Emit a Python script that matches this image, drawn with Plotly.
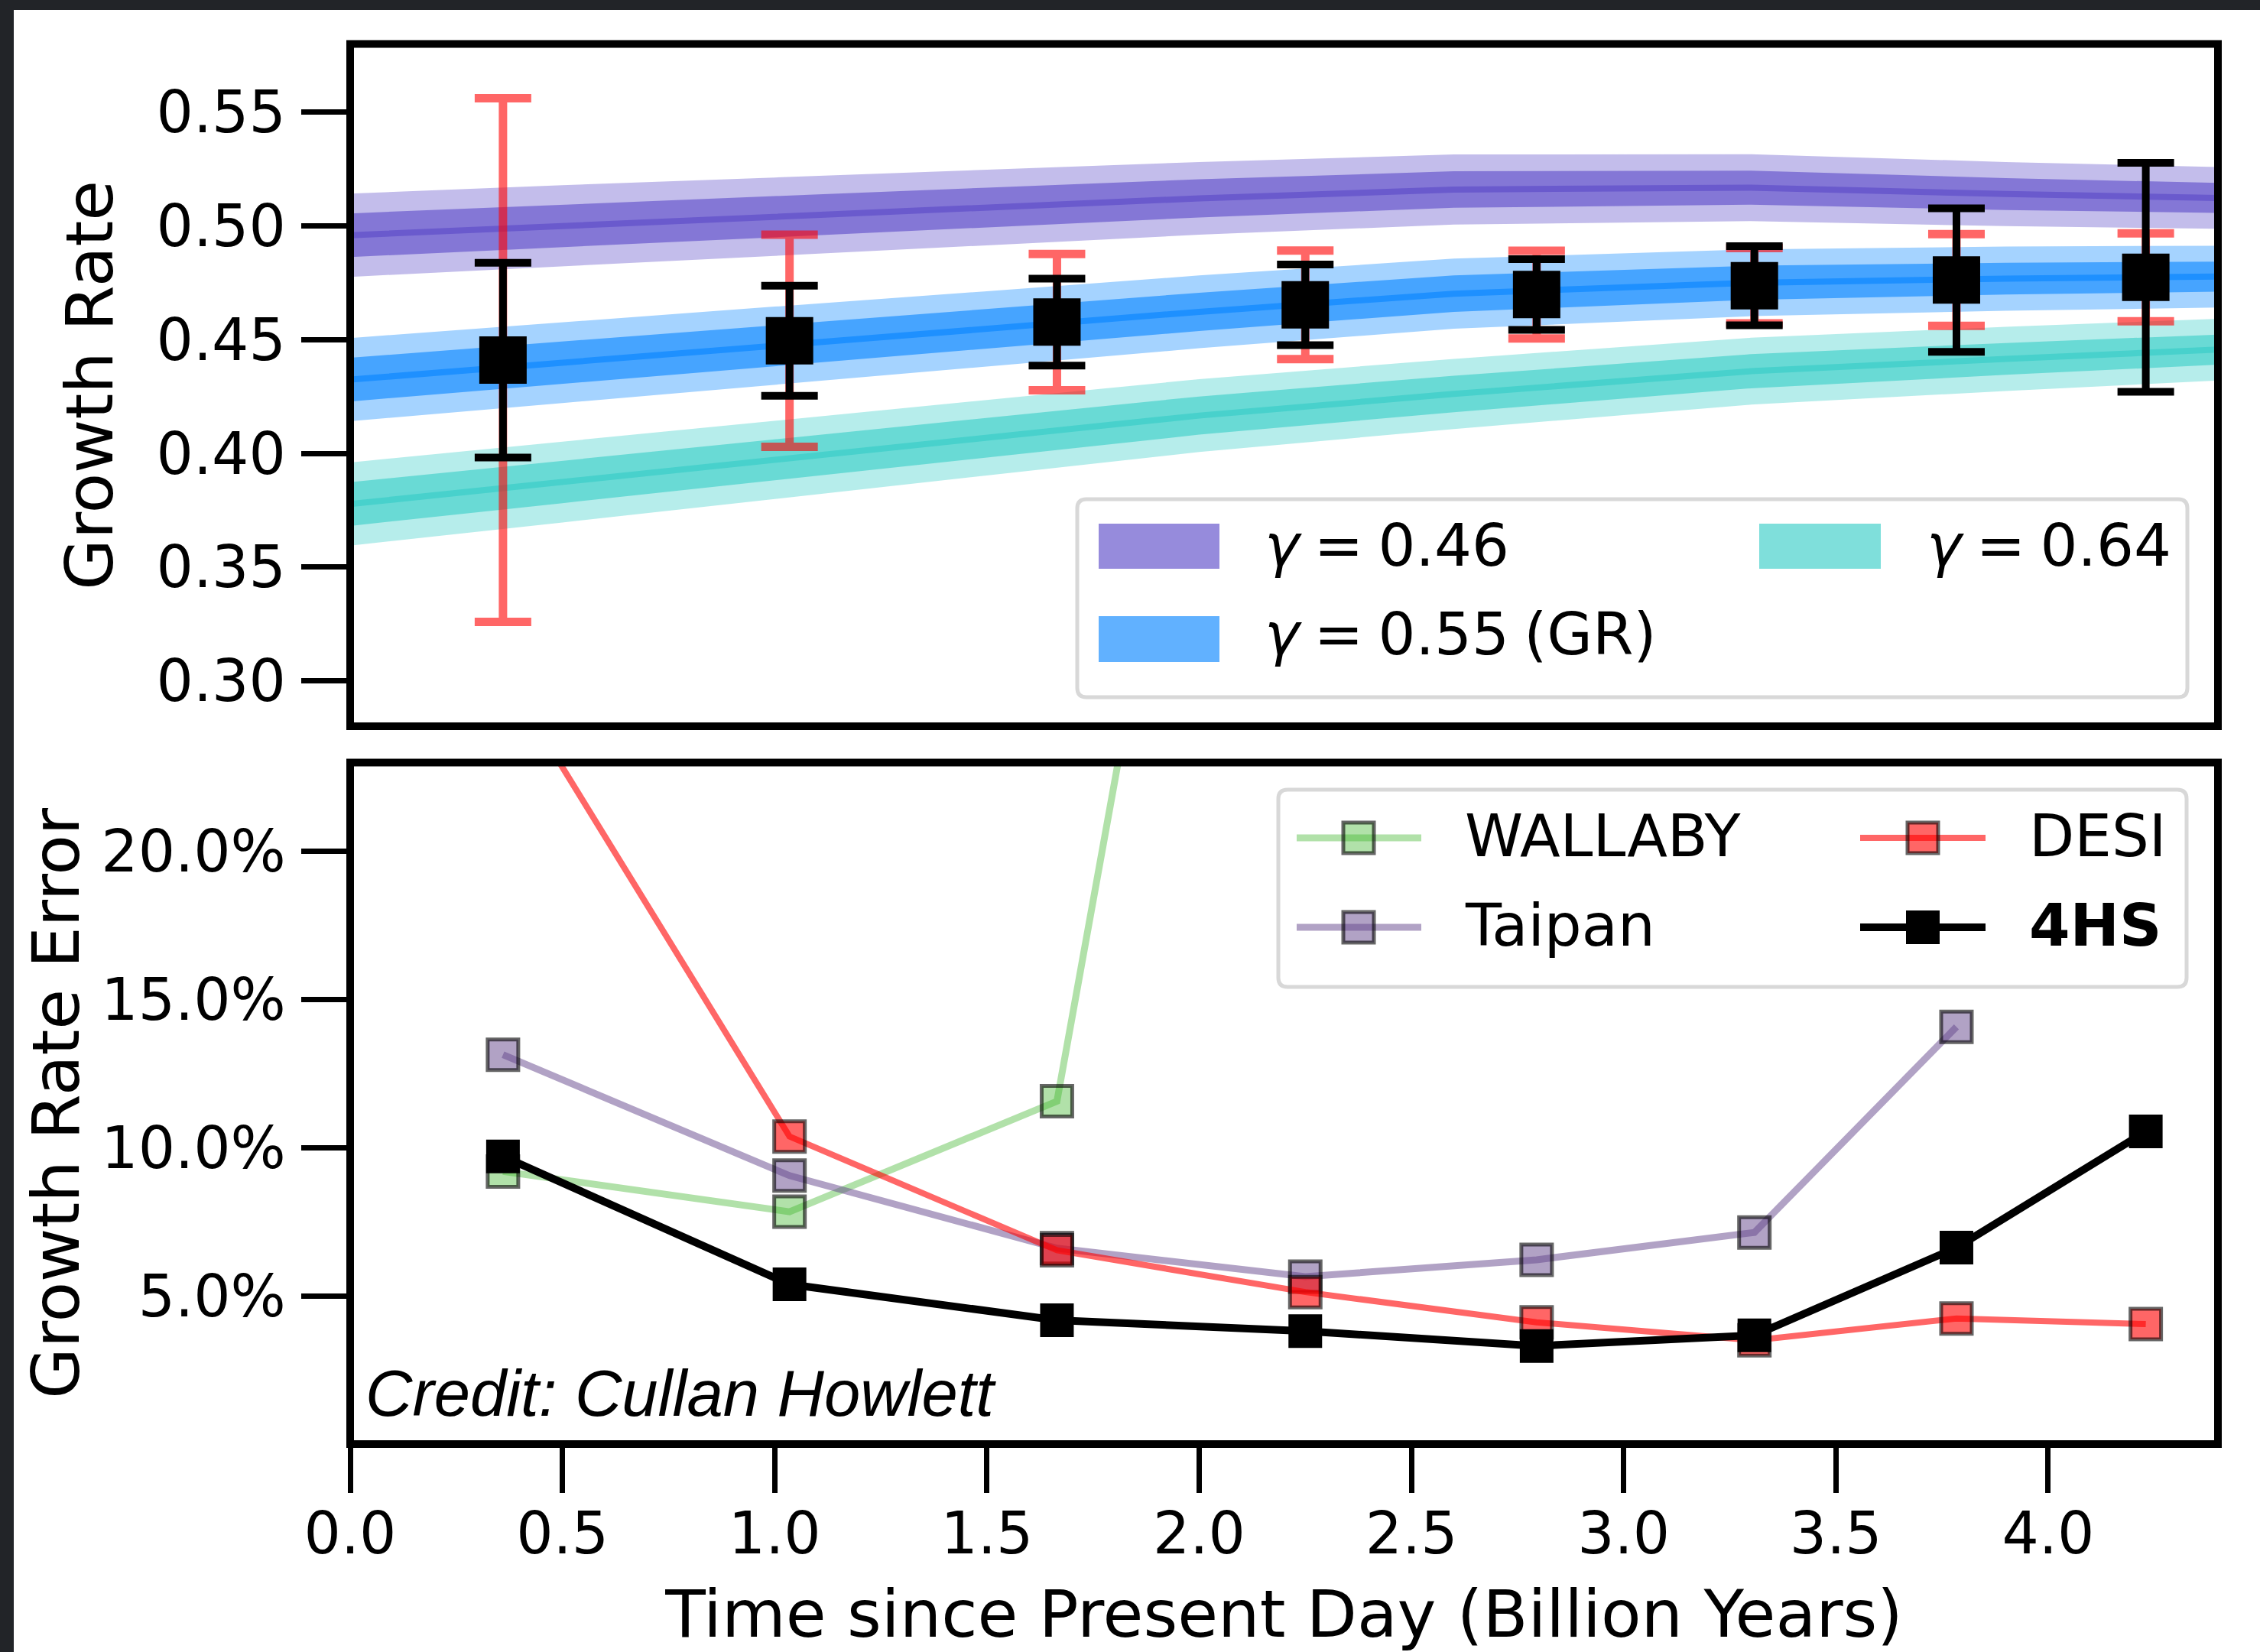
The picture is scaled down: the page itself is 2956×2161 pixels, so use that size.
import numpy as np
import plotly.graph_objects as go

W, H = 2956, 2161

# ---------------- data ----------------
# model curves (growth rate vs lookback time) for three gamma values
t_model = [0.0, 0.5, 1.0, 1.5, 2.0, 2.6, 3.3, 3.9, 4.4]
f_g046 = [0.4959, 0.5001, 0.5041, 0.5081, 0.5121, 0.5160, 0.5168, 0.5140, 0.5123]
f_g055 = [0.4324, 0.4399, 0.4473, 0.4547, 0.4622, 0.4702, 0.4750, 0.4768, 0.4777]
f_g064 = [0.3777, 0.3874, 0.3971, 0.4068, 0.4166, 0.4261, 0.4361, 0.4415, 0.4456]
band_inner = [0.0096, 0.0093, 0.0090, 0.0087, 0.0084, 0.0080, 0.0075, 0.0070, 0.0066]
band_outer = [0.0183, 0.0178, 0.0172, 0.0166, 0.0160, 0.0154, 0.0147, 0.0141, 0.0136]

# forecast points
t_obs = [0.360, 1.035, 1.665, 2.250, 2.795, 3.308, 3.784, 4.230]
f_obs = [0.4410, 0.4495, 0.4577, 0.4653, 0.4698, 0.4737, 0.4762, 0.4774]

# percentage growth-rate errors per survey
err_4hs = [9.71, 5.39, 4.18, 3.81, 3.31, 3.67, 6.63, 10.55]
err_desi = [26.1, 10.38, 6.54, 5.13, 4.11, 3.50, 4.24, 4.05]
err_taipan = [13.14, 9.06, 6.61, 5.65, 6.22, 7.14, 14.08]
err_wallaby = [9.20, 7.84, 11.57, 58.0]

top_ticks = [0.30, 0.35, 0.40, 0.45, 0.50, 0.55]
top_ticklabels = ["0.30", "0.35", "0.40", "0.45", "0.50", "0.55"]
bot_ticks = [5, 10, 15, 20]
bot_ticklabels = ["5.0%", "10.0%", "15.0%", "20.0%"]
x_ticks = [0.0, 0.5, 1.0, 1.5, 2.0, 2.5, 3.0, 3.5, 4.0]
x_ticklabels = ["0.0", "0.5", "1.0", "1.5", "2.0", "2.5", "3.0", "3.5", "4.0"]

# ---------------- styling ----------------
FONT = "DejaVu Sans"
TICK_FS = 76
TITLE_FS = 86
LEG_FS = 77

C_PURPLE = (106, 90, 205)
C_BLUE = (30, 144, 255)
C_TEAL = (72, 209, 204)


def rgba(c, a):
    return f"rgba({c[0]},{c[1]},{c[2]},{a})"


def px(v):
    return v / W


def py(v):
    return 1 - v / H


fig = go.Figure()

t_arr = np.array(t_model)
inner = np.array(band_inner)
outer = np.array(band_outer)
models = [("γ = 0.46", f_g046, C_PURPLE), ("γ = 0.55 (GR)", f_g055, C_BLUE), ("γ = 0.64", f_g064, C_TEAL)]
for name, f, c in models:
    f = np.array(f)
    xs = np.concatenate([t_arr, t_arr[::-1]])
    for hw, a in ((outer, 0.4), (inner, 0.7)):
        ys = np.concatenate([f + hw, (f - hw)[::-1]])
        fig.add_trace(go.Scatter(x=xs, y=ys, fill="toself", fillcolor=rgba(c, a),
                                 line=dict(width=0), mode="lines", hoverinfo="skip",
                                 showlegend=False, xaxis="x", yaxis="y"))
    fig.add_trace(go.Scatter(x=t_arr, y=f, mode="lines", line=dict(color=rgba(c, 1), width=8),
                             name=name, showlegend=False, xaxis="x", yaxis="y"))

f_obs_a = np.array(f_obs)
fig.add_trace(go.Scatter(
    x=t_obs, y=f_obs, mode="markers", marker=dict(size=2, color="rgba(0,0,0,0)"),
    error_y=dict(type="data", array=f_obs_a * np.array(err_desi) / 100, color="rgba(255,0,0,0.6)",
                 thickness=11, width=37),
    showlegend=False, xaxis="x", yaxis="y"))
fig.add_trace(go.Scatter(
    x=t_obs, y=f_obs, mode="markers", marker=dict(symbol="square", size=62, color="black"),
    error_y=dict(type="data", array=f_obs_a * np.array(err_4hs) / 100, color="black",
                 thickness=10, width=37),
    showlegend=False, xaxis="x", yaxis="y"))

# bottom panel
C_WAL = "rgba(60,180,40,0.4)"
C_TAI = "rgba(100,70,140,0.5)"
C_DESI = "rgba(255,0,0,0.6)"
EDGE = "rgba(0,0,0,0.6)"
surveys = [
    ("WALLABY", t_obs[:len(err_wallaby)], err_wallaby, C_WAL, 9),
    ("Taipan", t_obs[:len(err_taipan)], err_taipan, C_TAI, 9),
    ("DESI", t_obs, err_desi, C_DESI, 8),
]
for name, xs, ys, col, lw in surveys:
    fig.add_trace(go.Scatter(x=xs, y=ys, mode="lines+markers", name=name,
                             line=dict(color=col, width=lw),
                             marker=dict(symbol="square", size=40, color=col,
                                         line=dict(color=EDGE, width=5)),
                             showlegend=False, xaxis="x2", yaxis="y2"))
fig.add_trace(go.Scatter(x=t_obs, y=err_4hs, mode="lines+markers", name="4HS",
                         line=dict(color="black", width=10),
                         marker=dict(symbol="square", size=44, color="black"),
                         showlegend=False, xaxis="x2", yaxis="y2"))

# ---------------- layout ----------------
xdom = [px(458), px(2901)]
top_dom = [py(950), py(57.5)]
bot_dom = [py(1889), py(997.5)]

axis_common = dict(showgrid=False, zeroline=False, showline=False, ticks="outside",
                   ticklen=63, tickwidth=7, tickcolor="black", automargin=False,
                   tickfont=dict(family=FONT, size=TICK_FS, color="black"))

shapes = []
# frames
for xr, yr in (("x domain", "y domain"), ("x2 domain", "y2 domain")):
    shapes.append(dict(type="rect", xref=xr, yref=yr, x0=0, x1=1, y0=0, y1=1,
                       line=dict(color="black", width=10), fillcolor="rgba(0,0,0,0)", layer="above"))
# dark surround
DARK = "#222428"
shapes.append(dict(type="rect", xref="paper", yref="paper", x0=0, x1=px(18), y0=0, y1=1,
                   line=dict(width=0), fillcolor=DARK, layer="above"))
shapes.append(dict(type="rect", xref="paper", yref="paper", x0=0, x1=1, y0=py(13), y1=1,
                   line=dict(width=0), fillcolor=DARK, layer="above"))


def rounded_box(x0, y0, x1, y1, r=12):
    rx, ry = r / W, r / H
    X0, X1, Y0, Y1 = px(x0), px(x1), py(y1), py(y0)
    path = (f"M{X0+rx},{Y0} L{X1-rx},{Y0} Q{X1},{Y0} {X1},{Y0+ry} L{X1},{Y1-ry} "
            f"Q{X1},{Y1} {X1-rx},{Y1} L{X0+rx},{Y1} Q{X0},{Y1} {X0},{Y1-ry} "
            f"L{X0},{Y0+ry} Q{X0},{Y0} {X0+rx},{Y0} Z")
    return dict(type="path", xref="paper", yref="paper", path=path,
                line=dict(color="rgb(216,216,216)", width=5), fillcolor="rgba(255,255,255,0.9)",
                layer="above")


def prect(x0, y0, x1, y1, fill, lc="rgba(0,0,0,0)", lw=0):
    return dict(type="rect", xref="paper", yref="paper", x0=px(x0), x1=px(x1), y0=py(y1), y1=py(y0),
                fillcolor=fill, line=dict(color=lc, width=lw), layer="above")


def pline(x0, x1, y, col, lw):
    return dict(type="line", xref="paper", yref="paper", x0=px(x0), x1=px(x1), y0=py(y), y1=py(y),
                line=dict(color=col, width=lw), layer="above")


annotations = []


def ptext(x, y, txt, size=LEG_FS, family=FONT):
    annotations.append(dict(xref="paper", yref="paper", x=px(x), y=py(y), text=txt, showarrow=False,
                            xanchor="left", yanchor="middle",
                            font=dict(family=family, size=size, color="black")))


SP = "\u2005"
# top legend
shapes.append(rounded_box(1409, 653, 2861, 912))
shapes.append(prect(1437, 685, 1595, 744, rgba(C_PURPLE, 0.7)))
shapes.append(prect(1437, 806, 1595, 866, rgba(C_BLUE, 0.7)))
shapes.append(prect(2301, 685, 2460, 744, rgba(C_TEAL, 0.7)))
ptext(1652, 713, f"<i>γ</i>{SP}={SP}0.46")
ptext(1652, 829, f"<i>γ</i>{SP}={SP}0.55{SP}(GR)")
ptext(2518, 713, f"<i>γ</i>{SP}={SP}0.64")

# bottom legend
shapes.append(rounded_box(1672, 1033, 2860, 1291))
leg_items = [
    ("WALLABY", 1696, 1859, 1777, 1096, C_WAL, 9, True),
    ("Taipan", 1696, 1859, 1777, 1213, C_TAI, 9, True),
    ("DESI", 2433, 2597, 2515, 1096, C_DESI, 8, True),
    ("<b>4HS</b>", 2433, 2597, 2515, 1213, "black", 10, False),
]
for txt, lx0, lx1, mx, ly, col, lw, edged in leg_items:
    shapes.append(pline(lx0, lx1, ly, col, lw))
    if edged:
        shapes.append(prect(mx - 20, ly - 20, mx + 20, ly + 20, col, EDGE, 5))
    else:
        shapes.append(prect(mx - 22, ly - 22, mx + 22, ly + 22, col))
    ptext(lx1 + 55, ly - 3, txt)

# credit
annotations.append(dict(xref="paper", yref="paper", x=px(476), y=py(1822), text="<i>Credit: Cullan Howlett</i>",
                        showarrow=False, xanchor="left", yanchor="middle",
                        font=dict(family="Liberation Sans", size=85, color="black")))

fig.update_layout(
    template="none",
    width=W, height=H, autosize=False,
    margin=dict(l=0, r=0, t=0, b=0, pad=0),
    paper_bgcolor="white", plot_bgcolor="white",
    font=dict(family=FONT, color="black"),
    showlegend=False,
    xaxis=dict(domain=xdom, anchor="y", range=[0, 4.4], showticklabels=False, ticks="",
               showgrid=False, zeroline=False, showline=False, automargin=False),
    yaxis=dict(domain=top_dom, anchor="x", range=[0.28, 0.58], tickvals=top_ticks, ticktext=top_ticklabels,
               title=dict(text="Growth Rate", font=dict(family=FONT, size=TITLE_FS, color="black"), standoff=28),
               ticklabelstandoff=5, **axis_common),
    xaxis2=dict(domain=xdom, anchor="y2", range=[0, 4.4], tickvals=x_ticks, ticktext=x_ticklabels,
                title=dict(text="Time since Present Day (Billion Years)",
                           font=dict(family=FONT, size=TITLE_FS, color="black"), standoff=75),
                ticklabelstandoff=-12, **axis_common),
    yaxis2=dict(domain=bot_dom, anchor="x2", range=[0, 23], tickvals=bot_ticks, ticktext=bot_ticklabels,
                title=dict(text="Growth Rate Error", font=dict(family=FONT, size=TITLE_FS, color="black"),
                           standoff=0),
                ticklabelstandoff=5, **axis_common),
    shapes=shapes,
    annotations=annotations,
)

fig.write_html("out.html", config=dict(displayModeBar=False))
